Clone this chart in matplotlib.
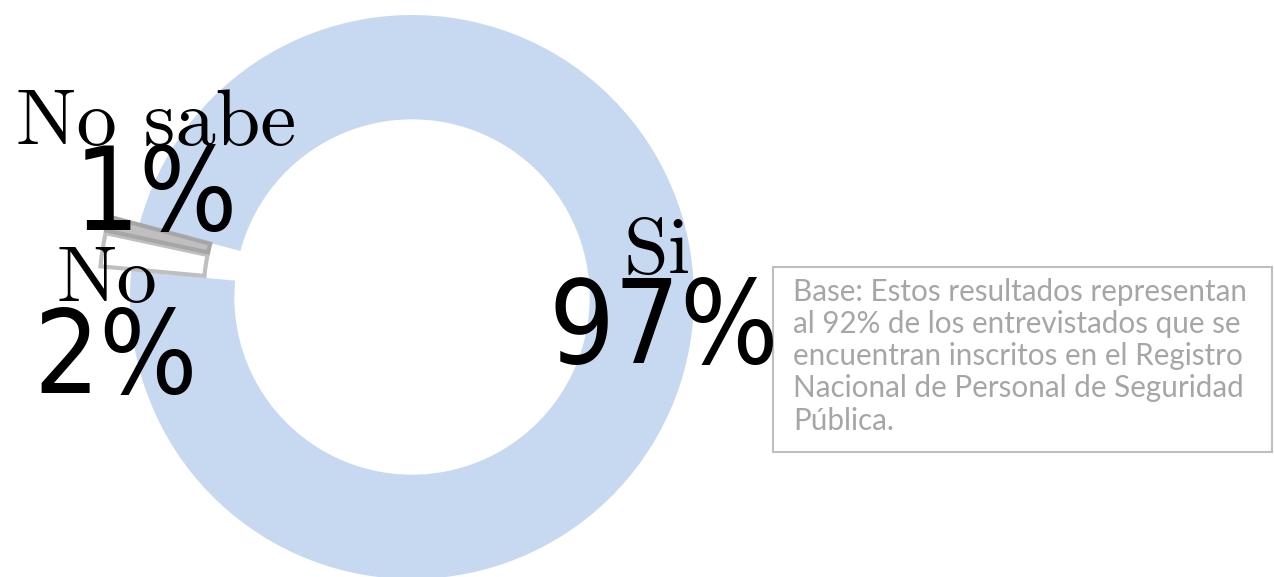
import matplotlib
matplotlib.use("Agg")
import matplotlib.pyplot as plt
from matplotlib.patches import Rectangle

labels = ["Si", "No", "No sabe"]
values = [97.3, 1.9, 0.8]
pct_text = ["97%", "2%", "1%"]
colors = ["#c6d9f1", "#ffffff", "#bfbfbf"]
edges = ["#c6d9f1", "#bfbfbf", "#a6a6a6"]
explode = [0, 0.11, 0.11]
note = ("Base: Estos resultados representan\n"
        "al 92% de los entrevistados que se\n"
        "encuentran inscritos en el Registro\n"
        "Nacional de Personal de Seguridad\n"
        "Pública.")

W, H = 1274, 577
CX, CY, R = 412, 297, 282

fig = plt.figure(figsize=(W / 100, H / 100), dpi=100)
ax = fig.add_axes([0, 0, 1, 1])
wedges, _ = ax.pie(values, colors=colors, explode=explode, startangle=165,
                   counterclock=False, radius=1,
                   wedgeprops=dict(width=0.37, linewidth=3))
for w, ec in zip(wedges, edges):
    w.set_edgecolor(ec)
wedges[0].set_linewidth(0)
ax.set_aspect("auto")
ax.set_xlim(-CX / R, (W - CX) / R)
ax.set_ylim(-(H - CY) / R, CY / R)
ax.axis("off")


def px(x, y):
    return (x - CX) / R, (CY - y) / R


serif = dict(family="cmr10", fontsize=58, ha="center", va="baseline")
sans = dict(family="DejaVu Sans", fontstretch="condensed", fontsize=83,
            ha="center", va="baseline")

ax.text(*px(156, 145), labels[2], **serif)
ax.text(*px(156, 230), pct_text[2], **sans)
ax.text(*px(107, 302), labels[1], **serif)
ax.text(*px(116, 393), pct_text[1], **sans)
ax.text(*px(657, 273), labels[0], **serif)
ax.text(*px(664, 363), pct_text[0], **sans)

ax.add_patch(Rectangle(px(773, 452), 499 / R, 185 / R, fill=False,
                       edgecolor="#bfbfbf", linewidth=1.5))
ax.text(*px(793, 278), note, family="Lato", fontsize=21.3, color="#a6a6a6",
        ha="left", va="top", linespacing=1.18)

fig.savefig("out.png", dpi=100)
